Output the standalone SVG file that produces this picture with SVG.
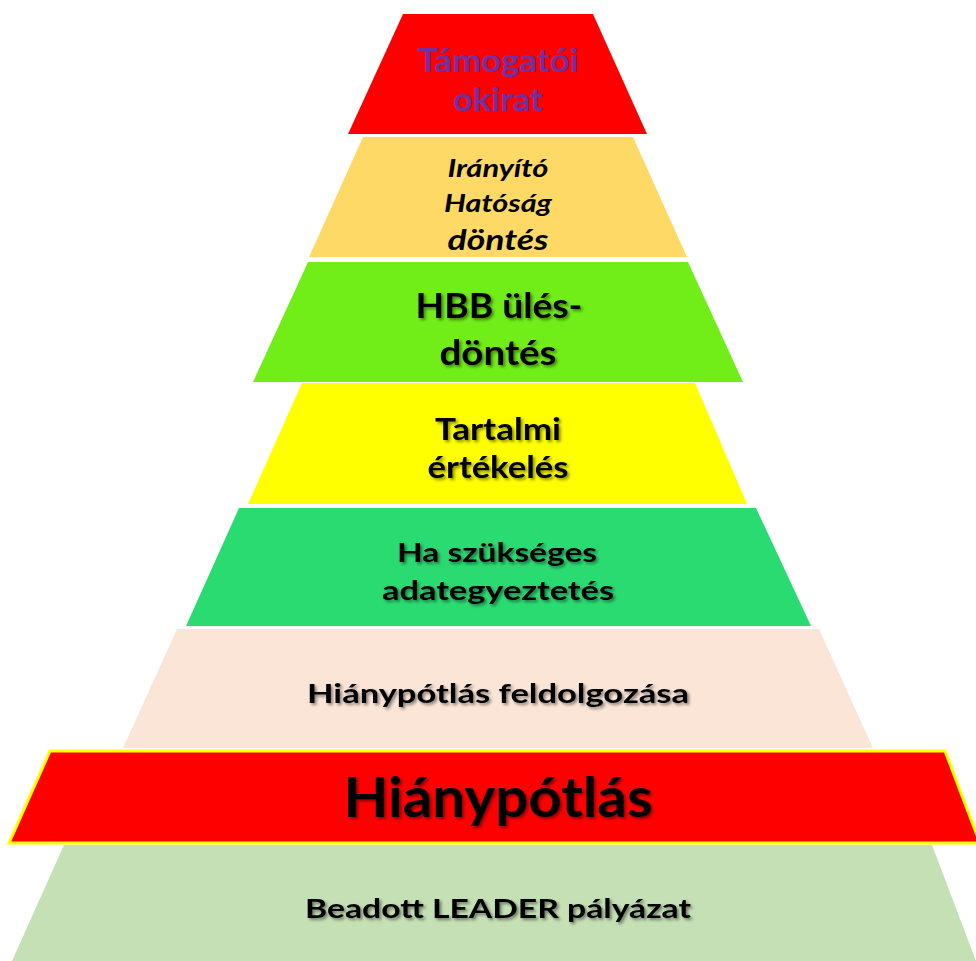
<svg xmlns="http://www.w3.org/2000/svg" width="976" height="961" viewBox="0 0 976 961">
<defs>
<style>
text{font-family:Lato,"Open Sans","Liberation Sans",sans-serif;font-weight:bold;text-anchor:middle;fill:#000}
.sh{filter:url(#shadow)}
.purple{fill:#7030A0}
.it{font-style:italic}
</style>
<filter id="shadow" x="-10%" y="-20%" width="130%" height="150%">
<feDropShadow dx="2" dy="2" stdDeviation="1.5" flood-color="#000" flood-opacity="0.45"/>
</filter>
</defs>
<rect width="976" height="961" fill="#fff"/>
<g id="layer-beadott">
<polygon points="64,845 932,845 976,961 12,961" fill="#C5E0B4"/>
<text class="sh" x="498" y="918" font-size="27" textLength="386" lengthAdjust="spacingAndGlyphs">Beadott LEADER pályázat</text>
</g>
<g id="layer-feldolgozas">
<polygon points="177,629 819,629 873,748 123,748" fill="#FBE5D6"/>
<text class="sh" x="498" y="703" font-size="26" textLength="382" lengthAdjust="spacingAndGlyphs">Hiánypótlás feldolgozása</text>
</g>
<g id="layer-hianypotlas">
<polygon points="50,751 945,751 980,843 9,843" fill="#FF0000" stroke="#FFFF00" stroke-width="3"/>
<text class="sh" x="498" y="817" font-size="56" textLength="309" lengthAdjust="spacingAndGlyphs">Hiánypótlás</text>
</g>
<g id="layer-adategyeztetes">
<polygon points="239,508 756,508 811,626 186,626" fill="#2ADB72"/>
<text class="sh" x="497" y="562" font-size="27" textLength="200" lengthAdjust="spacingAndGlyphs">Ha szükséges</text>
<text class="sh" x="498" y="600" font-size="27" textLength="232" lengthAdjust="spacingAndGlyphs">adategyeztetés</text>
</g>
<g id="layer-tartalmi">
<polygon points="302,383 695,383 747,504 248,504" fill="#FFFF00"/>
<text class="sh" x="498" y="440" font-size="30" textLength="126" lengthAdjust="spacingAndGlyphs">Tartalmi</text>
<text class="sh" x="498" y="478" font-size="30" textLength="141" lengthAdjust="spacingAndGlyphs">értékelés</text>
</g>
<g id="layer-hbb">
<polygon points="308,262 688,262 743,382 253,382" fill="#71EE17"/>
<text class="sh" x="499" y="318" font-size="35" textLength="167" lengthAdjust="spacingAndGlyphs">HBB ülés-</text>
<text class="sh" x="498" y="365" font-size="35" textLength="117" lengthAdjust="spacingAndGlyphs">döntés</text>
</g>
<g id="layer-iranyito">
<polygon points="363,137 633,137 687,257 309,257" fill="#FFD966"/>
<text class="it" x="498" y="177" font-size="24" textLength="101" lengthAdjust="spacingAndGlyphs">Irányító</text>
<text class="it" x="498" y="212" font-size="24" textLength="108" lengthAdjust="spacingAndGlyphs">Hatóság</text>
<text class="it" x="498" y="250" font-size="28" textLength="101" lengthAdjust="spacingAndGlyphs">döntés</text>
</g>
<g id="layer-tamogatoi">
<polygon points="403,14 593,14 647,134 348,134" fill="#FF0000"/>
<text class="purple" x="498" y="72" font-size="33" textLength="161" lengthAdjust="spacingAndGlyphs">Támogatói</text>
<text class="purple" x="498" y="111" font-size="33" textLength="90" lengthAdjust="spacingAndGlyphs">okirat</text>
</g>
<g id="connectors"/>
</svg>
